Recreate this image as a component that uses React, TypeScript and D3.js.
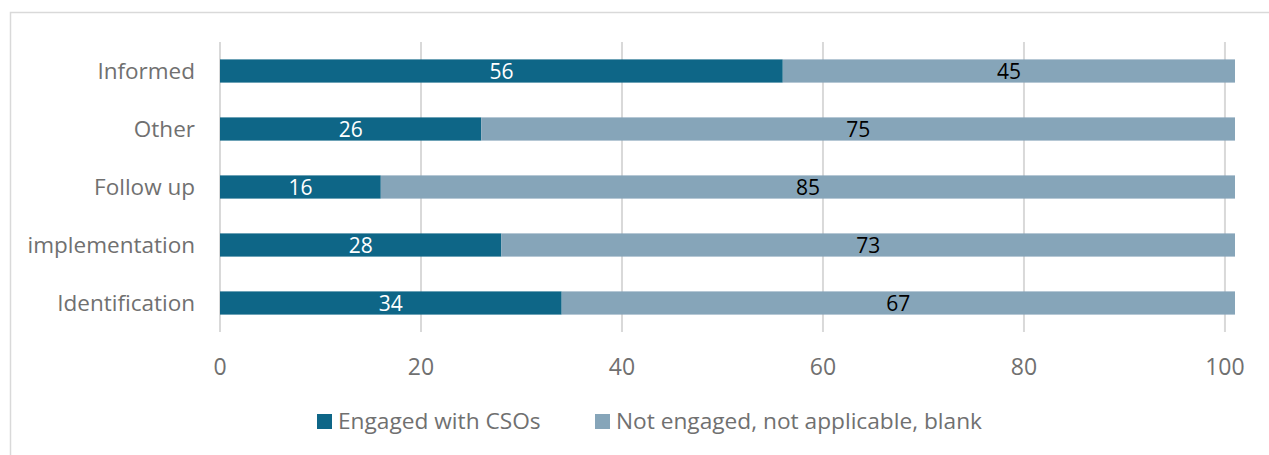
import React from "react";
import * as d3 from "d3";

const categories = ["Informed", "Other", "Follow up", "implementation", "Identification"];
const engaged = [56, 26, 16, 28, 34];
const notEngaged = [45, 75, 85, 73, 67];
const seriesNames = ["Engaged with CSOs", "Not engaged, not applicable, blank"];
const seriesColors = ["#0e6687", "#86a5b9"];
const xTicks = [0, 20, 40, 60, 80, 100];

const W = 1269;
const H = 455;
const FONT = "'Open Sans', 'Noto Sans', sans-serif";

export default function App() {
  const x = d3.scaleLinear().domain([0, 101]).range([220, 1235]);
  const y = d3.scaleBand().domain(categories).range([42, 332]).paddingInner(0.6).paddingOuter(0.3);

  const rows = categories.map((c, i) => ({ c, vals: [engaged[i], notEngaged[i]] }));

  return (
    <svg width={W} height={H} style={{ position: "absolute", left: 0, top: 0 }}>
      <rect x={0} y={0} width={W} height={H} fill="#fff" />
      <rect x={10.5} y={12.5} width={1270} height={460} fill="none" stroke="#d9d9d9" strokeWidth={1.5} />
      {xTicks.map((t) => (
        <line key={t} x1={x(t)} x2={x(t)} y1={42} y2={332} stroke="#d9d9d9" strokeWidth={2} />
      ))}
      {rows.map((r) => {
        let acc = 0;
        return (
          <g key={r.c}>
            {r.vals.map((v, j) => {
              const x0 = x(acc);
              acc += v;
              const x1 = x(acc);
              return (
                <g key={j}>
                  <rect x={x0} y={y(r.c)} width={x1 - x0} height={y.bandwidth()} fill={seriesColors[j]} />
                  <text
                    x={(x0 + x1) / 2}
                    y={y(r.c)! + y.bandwidth() / 2}
                    dy="0.36em"
                    textAnchor="middle"
                    fontFamily={FONT}
                    fontSize={21}
                    fill={j === 0 ? "#ffffff" : "#000000"}
                  >
                    {v}
                  </text>
                </g>
              );
            })}
            <text
              x={195}
              y={y(r.c)! + y.bandwidth() / 2}
              dy="0.36em"
              textAnchor="end"
              fontFamily={FONT}
              fontSize={22.5}
              fill="#707070"
            >
              {r.c}
            </text>
          </g>
        );
      })}
      {xTicks.map((t) => (
        <text key={t} x={x(t)} y={367} dy="0.36em" textAnchor="middle" fontFamily={FONT} fontSize={23} fill="#707070">
          {t}
        </text>
      ))}
      {seriesNames.map((s, i) => {
        const lx = [317, 595][i];
        return (
          <g key={s}>
            <rect x={lx} y={414} width={15} height={15} fill={seriesColors[i]} />
            <text x={lx + 21} y={421} dy="0.36em" fontFamily={FONT} fontSize={22.7} fill="#707070">
              {s}
            </text>
          </g>
        );
      })}
    </svg>
  );
}
